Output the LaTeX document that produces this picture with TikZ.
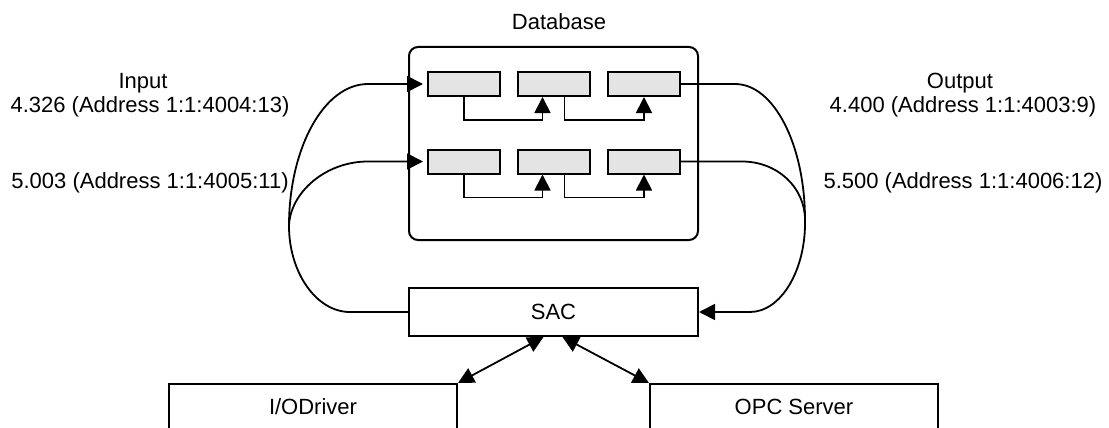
\documentclass[tikz,border=0pt]{standalone}
\usepackage{fontspec}
\setmainfont{Liberation Sans}
\usetikzlibrary{arrows.meta}
\definecolor{cellgray}{RGB}{228,228,228}
\begin{document}
\begin{tikzpicture}[x=1pt,y=-1pt,
  every node/.style={font=\fontsize{22}{26}\selectfont, inner sep=0pt},
  box/.style={draw=black, line width=2pt, fill=white},
  cell/.style={draw=black, line width=2pt, fill=cellgray,
               minimum width=72pt, minimum height=24pt},
  link/.style={line width=1.8pt},
  head/.style={-{Triangle[length=16pt,width=16pt]}},
  twohead/.style={{Triangle[length=16pt,width=16pt]}-{Triangle[length=16pt,width=16pt]}}
]
\clip (0,0) rectangle (1109,428);

% database with its two rows of cells
\node[box, rounded corners=9pt, minimum width=289pt, minimum height=193pt] (db) at (553.5,143.5) {};
\node (dblabel) at (559,22) {Database};

\node[cell] (c11) at (464,84) {};
\node[cell] (c12) at (553.5,84) {};
\node[cell] (c13) at (644,84) {};
\node[cell] (c21) at (464,161.5) {};
\node[cell] (c22) at (553.5,161.5) {};
\node[cell] (c23) at (644,161.5) {};

\draw[link,head] (c11.south) -- ++(0,23) -| ([xshift=-11pt]c12.south);
\draw[link,head] ([xshift=11pt]c12.south) -- ++(0,23) -| (c13.south);
\draw[link,head] (c21.south) -- ++(0,23) -| ([xshift=-11pt]c22.south);
\draw[link,head] ([xshift=11pt]c22.south) -- ++(0,23) -| (c23.south);

% SAC and the two servers below it
\node[box, minimum width=289pt, minimum height=48pt] (sac) at (553.5,312) {SAC};
\node[box, minimum width=288pt, minimum height=46pt] (io) at (313,407) {I/ODriver};
\node[box, minimum width=288pt, minimum height=46pt] (opc) at (794,407) {OPC Server};

\draw[link,twohead] (io.north east) -- ([xshift=-10pt]sac.south);
\draw[link,twohead] (opc.north west) -- ([xshift=9pt]sac.south);

% input side: SAC feeds the first cell of each row
\coordinate (ljoin) at (289,226);
\coordinate (lbot) at (350,312);
\coordinate (ltopa) at (368,84);
\coordinate (ltopb) at (368,161.5);
\draw[link] (sac.west) -- (lbot) .. controls (316,312) and (289,272) .. (ljoin);
\draw[link,head,shorten >=4pt] (ljoin) .. controls (289,148) and (324,84) .. (ltopa) -- (c11.west);
\draw[link,head,shorten >=4pt] (ljoin) .. controls (290,193) and (325,161.5) .. (ltopb) -- (c21.west);

% output side: last cell of each row returns to SAC
\coordinate (rjoin) at (805,220);
\coordinate (rbot) at (750,312);
\coordinate (rtopa) at (735,84);
\coordinate (rtopb) at (742,161.5);
\draw[link] (c13.east) -- (rtopa) .. controls (774,84) and (805,145) .. (rjoin);
\draw[link] (c23.east) -- (rtopb) .. controls (777,161.5) and (805,187) .. (rjoin);
\draw[link,head] (rjoin) .. controls (806,270) and (781,312) .. (rbot) -- (sac.east);

% point labels
\node (inlabel) at (143,83) {Input};
\node (inaddra) at (150,107) {4.326 (Address 1:1:4004:13)};
\node (inaddrb) at (150,183) {5.003 (Address 1:1:4005:11)};
\node (outlabel) at (960,83) {Output};
\node (outaddra) at (963,107) {4.400 (Address 1:1:4003:9)};
\node (outaddrb) at (963,183) {5.500 (Address 1:1:4006:12)};
\end{tikzpicture}
\end{document}
